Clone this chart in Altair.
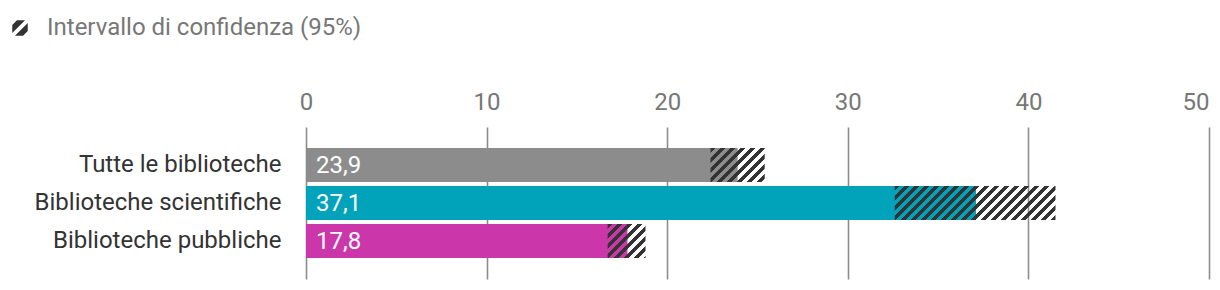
import altair as alt
import pandas as pd

# Share of libraries, with 95% confidence interval
categories = ["Tutte le biblioteche", "Biblioteche scientifiche", "Biblioteche pubbliche"]
values = [23.9, 37.1, 17.8]
ci_low = [22.4, 32.6, 16.7]
ci_high = [25.4, 41.5, 18.8]
bar_colors = ["#8c8c8c", "#00a3b9", "#cb37aa"]
x_ticks = [0, 10, 20, 30, 40, 50]
legend_label = "Intervallo di confidenza (95%)"

FONT = "Roboto"
FONT_SIZE = 24
PLOT_W = 903
PLOT_H = 152
X_MAX = 50
PAD_INNER = 0.1
PAD_OUTER = 0.55
INK = "#333333"
CLEAR = "rgba(255,255,255,0)"

px_per_unit = PLOT_W / X_MAX
step = PLOT_H / (len(categories) - PAD_INNER + 2 * PAD_OUTER)
bandwidth = step * (1 - PAD_INNER)

# Two-stripe hatch glyph for the legend, in the unit square [-1, 1]
HATCH_GLYPH = (
    "M-0.4,-1L0.65,-1L-1,0.65L-1,-0.4Z"
    "M1,-0.65L1,0.4L0.4,1L-0.65,1Z"
)


def hatch(w, h, period=10.0, duty=0.5, phase=0.0):
    """Diagonal '/' stripes as a hard-stop linear gradient over a w x h box."""
    span = w + h  # horizontal extent covered from top-left to bottom-right corner
    den = w * w + h * h
    x2 = span * w / den
    y2 = span * h / den
    n = span / period
    stops = []
    i = -1
    while i < n + 1:
        a = (i + phase) / n
        b = (i + phase + duty) / n
        c = (i + phase + 1) / n
        for off, col in ((a, INK), (b, INK), (b, CLEAR), (c, CLEAR)):
            stops.append({"offset": min(max(off, 0.0), 1.0), "color": col})
        i += 1
    return {"gradient": "linear", "x1": 0, "y1": 0, "x2": x2, "y2": y2, "stops": stops}


df = pd.DataFrame({
    "cat": categories,
    "value": values,
    "lo": ci_low,
    "hi": ci_high,
    "color": bar_colors,
})

y_enc = alt.Y(
    "cat:N",
    sort=categories,
    title=None,
    scale=alt.Scale(paddingInner=PAD_INNER, paddingOuter=PAD_OUTER),
    axis=alt.Axis(
        ticks=False,
        domain=False,
        grid=False,
        labelPadding=25,
        labelFontSize=FONT_SIZE,
        labelFont=FONT,
        labelColor="#333333",
        labelLimit=400,
    ),
)

x_scale = alt.Scale(domain=[0, X_MAX], nice=False, zero=True)

bars = alt.Chart(df).mark_bar().encode(
    x=alt.X(
        "value:Q",
        scale=x_scale,
        title=None,
        axis=alt.Axis(
            orient="top",
            values=x_ticks,
            ticks=False,
            domain=False,
            labelPadding=13,
            labelFontSize=FONT_SIZE,
            labelFont=FONT,
            labelColor="#777777",
            labelFlush=False,
            labelAlign={"condition": {"test": f"datum.value === {X_MAX}", "value": "right"}, "value": "center"},
            gridColor="#8c8c8c",
            gridWidth=1.6,
        ),
    ),
    y=y_enc,
    color=alt.Color("color:N", scale=None),
)

# Confidence-interval hatching, one overlay per category
hatches = []
for cat, lo, hi in zip(categories, ci_low, ci_high):
    w = (hi - lo) * px_per_unit
    hatches.append(
        alt.Chart(df)
        .transform_filter(alt.datum.cat == cat)
        .mark_bar(fill=hatch(w, bandwidth), strokeWidth=0)
        .encode(x=alt.X("lo:Q", scale=x_scale), x2="hi:Q", y=y_enc)
    )

labels = alt.Chart(df).transform_calculate(
    label="replace(format(datum.value, '.1f'), '.', ',')"
).mark_text(
    align="left", baseline="middle", dx=10, dy=1, color="white", fontSize=FONT_SIZE, font=FONT
).encode(x=alt.value(0), y=y_enc, text="label:N")

legend_layer = alt.Chart(pd.DataFrame({"k": [legend_label]})).mark_point(
    color=INK, opacity=0, filled=True
).encode(
    shape=alt.Shape(
        "k:N",
        scale=alt.Scale(range=[HATCH_GLYPH]),
        legend=alt.Legend(
            title=None,
            orient="none",
            legendX=-298,
            legendY=-111,
            symbolType=HATCH_GLYPH,
            symbolSize=240,
            symbolOpacity=1,
            symbolFillColor=INK,
            symbolStrokeWidth=0,
            labelFontSize=FONT_SIZE,
            labelFont=FONT,
            labelColor="#777777",
            labelOffset=15,
            labelLimit=500,
        ),
    ),
    x=alt.value(0),
    y=alt.value(0),
)

chart = alt.layer(bars, *hatches, labels, legend_layer).properties(
    width=PLOT_W,
    height=PLOT_H,
    autosize=alt.AutoSizeParams(type="none"),
    padding={"left": 306, "top": 127, "right": 11, "bottom": 11},
    background="white",
).configure_view(stroke=None)

chart.save("out.html", embed_options={"renderer": "svg", "actions": False})
